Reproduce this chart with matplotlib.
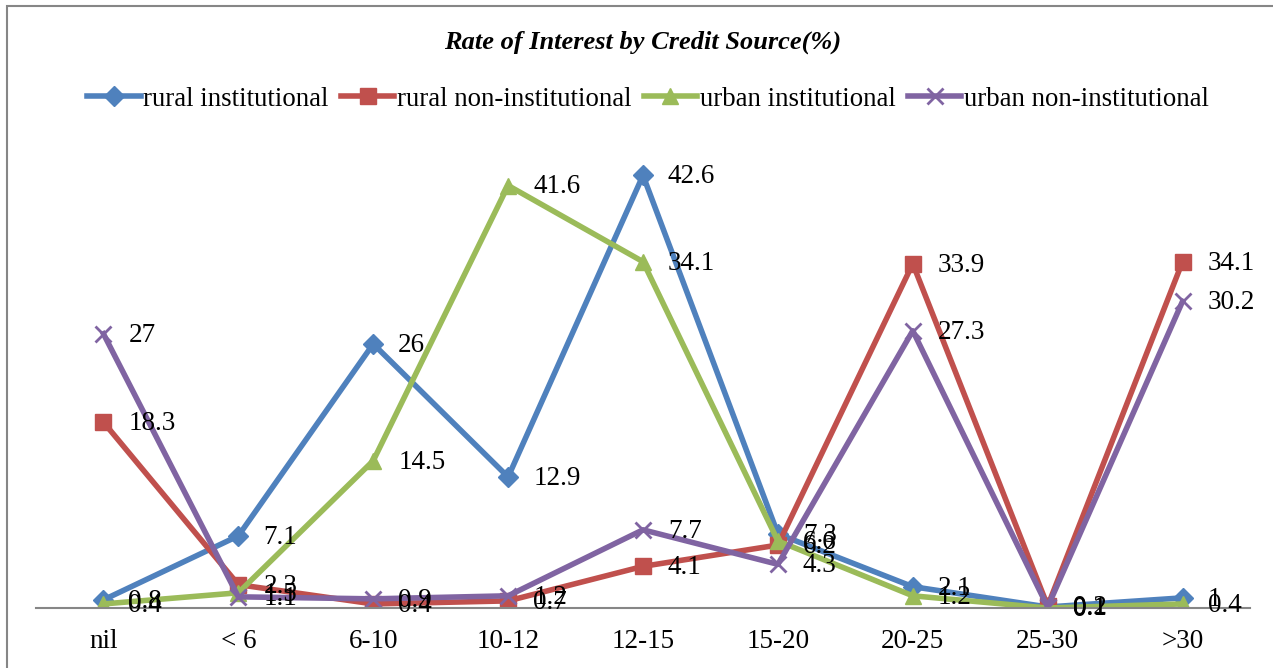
import matplotlib
matplotlib.use("Agg")
import matplotlib.pyplot as plt
from matplotlib.patches import Rectangle

categories = ["nil", "< 6", "6-10", "10-12", "12-15", "15-20", "20-25", "25-30", ">30"]
rural_institutional = [0.8, 7.1, 26, 12.9, 42.6, 7.3, 2.1, 0.1, 1]
rural_non_institutional = [18.3, 2.3, 0.4, 0.7, 4.1, 6.2, 33.9, 0.2, 34.1]
urban_institutional = [0.4, 1.5, 14.5, 41.6, 34.1, 6.6, 1.2, 0.0, 0.4]
urban_non_institutional = [27, 1.1, 0.9, 1.2, 7.7, 4.3, 27.3, 0.1, 30.2]

series = [
    ("rural institutional", rural_institutional, "#4F81BD", "D", 10),
    ("rural non-institutional", rural_non_institutional, "#C0504D", "s", 11),
    ("urban institutional", urban_institutional, "#9BBB59", "^", 12),
    ("urban non-institutional", urban_non_institutional, "#8064A2", "x", 11),
]

plt.rcParams['font.family'] = ['Liberation Serif', 'DejaVu Serif']

W, H = 1273, 668
fig = plt.figure(figsize=(W / 100, H / 100), dpi=100)
ax = fig.add_axes([36 / W, 1 - 608 / H, (1250 - 36) / W, (608 - 151) / H])

x = list(range(len(categories)))
for name, vals, col, mk, ms in series:
    kw = dict(markeredgewidth=2.0) if mk == "x" else dict(markeredgecolor=col)
    ax.plot(x, vals, color=col, linewidth=4, marker=mk, markersize=ms,
            markerfacecolor=col, label=name, solid_joinstyle="round", **kw)
for name, vals, col, mk, ms in series:
    for xi, v in zip(x, vals):
        ax.annotate(f"{v:g}", (xi, v), xytext=(18, -1), textcoords="offset points",
                    ha="left", va="center", fontsize=19.5, color="black")

ax.set_xlim(-0.5, len(categories) - 0.5)
ax.set_ylim(0, 45)
ax.set_xticks(x)
ax.set_xticklabels(categories, fontsize=19.5)
ax.tick_params(axis="x", length=0, pad=15)
ax.set_yticks([])
for s in ["top", "right", "left"]:
    ax.spines[s].set_visible(False)
ax.spines["bottom"].set_color("#868686")
ax.spines["bottom"].set_linewidth(1.5)
ax.patch.set_alpha(0)

fig.text(643 / W, 1 - 42 / H, "Rate of Interest by Credit Source(%)", ha="center",
         va="center", fontsize=19, fontstyle="italic", fontweight="bold")

leg = fig.legend(loc="center", bbox_to_anchor=(648 / W, 1 - 99 / H), ncol=4,
                 frameon=False, fontsize=19.3, handlelength=2.0, handletextpad=0.1,
                 columnspacing=0.45, borderaxespad=0)

fig.patches.append(Rectangle((7 / W, -0.1), 1.2, 1.1 - 6 / H, transform=fig.transFigure,
                             fill=False, edgecolor="#868686", linewidth=1.5))

fig.savefig("out.png", dpi=100)
